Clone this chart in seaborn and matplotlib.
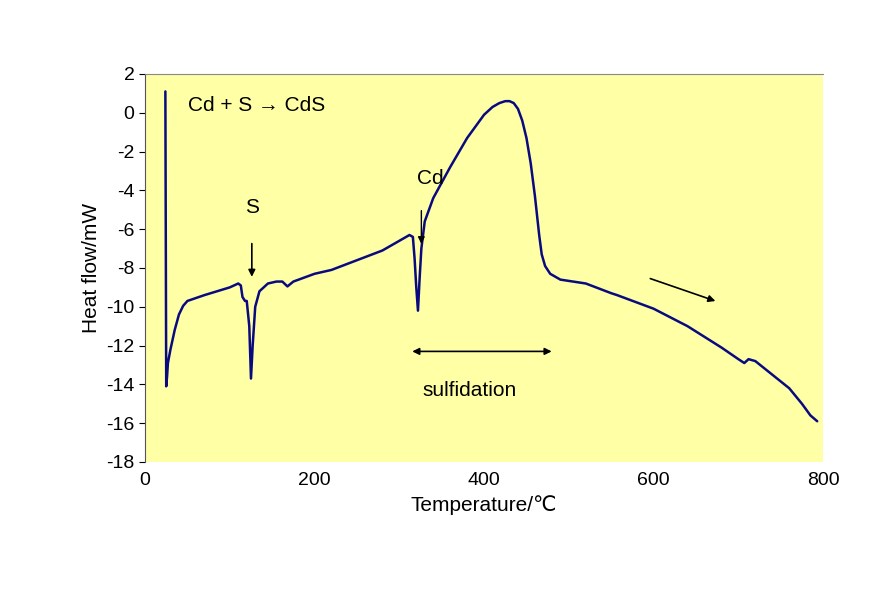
import numpy as np
import pandas as pd
import matplotlib
matplotlib.use("Agg")
import matplotlib.pyplot as plt
import seaborn as sns

# DSC curve
temperature = [24, 25, 26, 27, 30, 35, 40, 45, 50, 70, 100, 110, 113, 115, 118, 120, 123, 125, 127, 130,
               135, 145, 155, 162, 168, 175, 200, 220, 250, 280, 300, 312, 316, 318, 320, 322, 324, 326,
               330, 340, 360, 380, 400, 410, 418, 425, 430, 435, 440, 445, 450, 455, 460, 465, 468, 472,
               478, 490, 520, 550, 557, 600, 640, 680, 700, 707, 712, 720, 740, 760, 775, 785, 793]
heat_flow = [1.1, -14.1, -13.6, -12.9, -12.2, -11.2, -10.4, -9.95, -9.7, -9.4, -9.0, -8.8, -8.9, -9.5,
             -9.7, -9.7, -11.0, -13.7, -12.0, -10.0, -9.2, -8.8, -8.7, -8.7, -8.95, -8.7, -8.3, -8.1,
             -7.6, -7.1, -6.6, -6.3, -6.4, -7.5, -9.0, -10.2, -8.5, -7.0, -5.6, -4.4, -2.8, -1.3, -0.1,
             0.3, 0.5, 0.6, 0.6, 0.5, 0.2, -0.4, -1.3, -2.6, -4.3, -6.3, -7.3, -7.9, -8.3, -8.6, -8.8,
             -9.3, -9.4, -10.1, -11.0, -12.1, -12.7, -12.9, -12.7, -12.8, -13.5, -14.2, -15.0, -15.6,
             -15.9]

df = pd.DataFrame({"Temperature": temperature, "HeatFlow": heat_flow})

sns.set_style("white")
plt.rcParams['font.family'] = ['Liberation Sans', 'DejaVu Sans']
plt.rcParams['axes.unicode_minus'] = False
plt.rcParams['text.color'] = 'black'

fig = plt.figure(figsize=(8.87, 5.90), dpi=100)
ax = fig.add_axes([0.1635, 0.217, 0.7645, 0.6576])
ax.set_facecolor("#FFFFA6")
sns.lineplot(data=df, x="Temperature", y="HeatFlow", ax=ax, color="#0A0A80", lw=1.8, sort=False)

ax.set_xlim(0, 800)
ax.set_ylim(-18, 2)
ax.set_xticks(range(0, 801, 200))
ax.set_yticks(range(-18, 3, 2))
ax.tick_params(axis="both", labelsize=14, labelcolor="black", colors="black",
               direction="out", length=4, left=True, bottom=False)
ax.set_xlabel("Temperature/\u2103", fontsize=15, color="black")
ax.set_ylabel("Heat flow/mW", fontsize=15, color="black")
for s in ["right", "bottom"]:
    ax.spines[s].set_visible(False)
ax.spines["top"].set_color("#888888")
ax.spines["left"].set_color("#555555")

ax.text(51, 0.4, "Cd + S \u2192 CdS", fontsize=15, va="center")
ax.text(126, -4.9, "S", fontsize=15, ha="center", va="center")
ax.annotate("", xy=(126, -8.6), xytext=(126, -6.6),
            arrowprops=dict(arrowstyle="-|>", color="black", lw=1.2))
ax.text(336, -3.4, "Cd", fontsize=15, ha="center", va="center")
ax.annotate("", xy=(326, -6.9), xytext=(326, -4.9),
            arrowprops=dict(arrowstyle="-|>", color="black", lw=1.0))
ax.annotate("", xy=(312, -12.3), xytext=(483, -12.3),
            arrowprops=dict(arrowstyle="<|-|>", color="black", lw=1.2))
ax.text(383, -14.3, "sulfidation", fontsize=15, ha="center", va="center")
ax.annotate("", xy=(676, -9.75), xytext=(593, -8.5),
            arrowprops=dict(arrowstyle="-|>", color="black", lw=1.2))

fig.savefig("out.png", dpi=100)
